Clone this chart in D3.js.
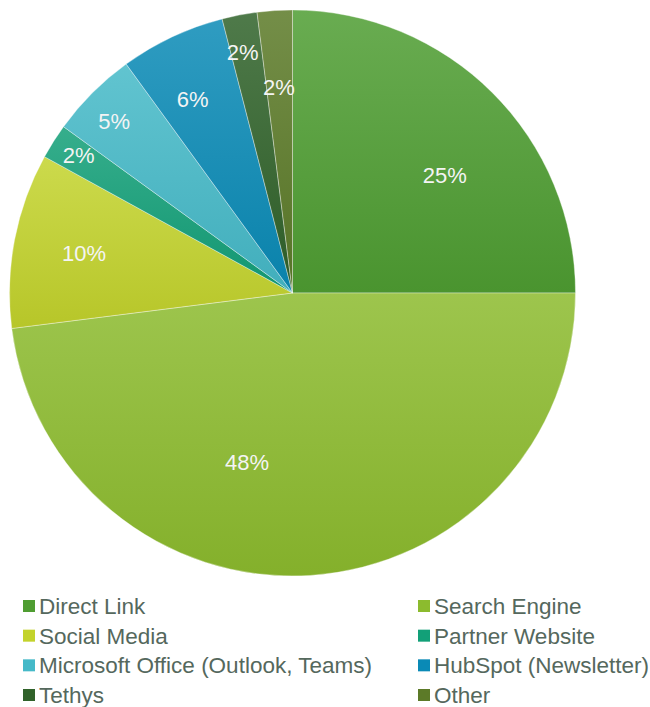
<!DOCTYPE html>
<html lang="en">
<head>
<meta charset="utf-8">
<title>Traffic sources</title>
<script src="https://d3js.org/d3.v7.min.js"></script>
<style>
  body { margin: 0; background: #fff; }
  text { font-family: "Liberation Sans", Arial, sans-serif; }
  .label { fill: #f4f4f4; font-size: 22px; }
  .legend text { fill: #55685d; font-size: 22.5px; }
</style>
</head>
<body>
<div id="chart"></div>
<script>
// data
var sources = ["Direct Link", "Search Engine", "Social Media", "Partner Website",
               "Microsoft Office (Outlook, Teams)", "HubSpot (Newsletter)", "Tethys", "Other"];
var shares = [25, 48, 10, 2, 5, 6, 2, 2];
var colors = ["#4f9d32", "#8cbb2e", "#c3d32c", "#12a078", "#45b9c8", "#0a8ab6", "#30622a", "#5c7a28"];

var width = 650, height = 707;
var cx = 292.5, cy = 293, radius = 283;

// where excel dropped each label: fraction of radius, turn in degrees
var labelPlace = [[0.68, 7.3], [0.62, 18.6], [0.75, 0], [0.9, 0.5],
                  [0.875, -1.1], [0.77, -2.1], [0.87, -0.9], [0.73, -0.2]];

var svg = d3.select("#chart").append("svg")
    .attr("width", width)
    .attr("height", height);

var defs = svg.append("defs");

var table = sources.map(function(s, i) { return {name: s, value: shares[i], color: colors[i], i: i}; });

var pie = d3.pie().sort(null).value(function(d) { return d.value; });
var arc = d3.arc().innerRadius(0).outerRadius(radius);

var arcs = pie(table);

// vertical gradient per slice, lighter on top
arcs.forEach(function(a) {
    var g = defs.append("linearGradient")
        .attr("id", "grad" + a.data.i)
        .attr("x1", 0).attr("y1", 0).attr("x2", 0).attr("y2", 1);
    g.append("stop").attr("offset", "0%")
        .attr("stop-color", d3.interpolateRgb(a.data.color, "#ffffff")(0.15));
    g.append("stop").attr("offset", "100%")
        .attr("stop-color", d3.interpolateRgb(a.data.color, "#000000")(0.06));
});

var g = svg.append("g")
    .attr("transform", "translate(" + cx + "," + cy + ")");

g.selectAll("path")
    .data(arcs)
    .enter().append("path")
    .attr("d", arc)
    .attr("fill", function(d) { return "url(#grad" + d.data.i + ")"; })
    .attr("stroke", "rgba(255,255,255,0.45)")
    .attr("stroke-width", 0.8);

g.selectAll("text.label")
    .data(arcs)
    .enter().append("text")
    .attr("class", "label")
    .attr("text-anchor", "middle")
    .attr("dy", "0.36em")
    .attr("transform", function(d) {
        var p = labelPlace[d.data.i];
        var a = (d.startAngle + d.endAngle) / 2 + p[1] * Math.PI / 180;
        var r = p[0] * radius;
        return "translate(" + (r * Math.sin(a)) + "," + (-r * Math.cos(a)) + ")";
    })
    .text(function(d) { return d.data.value + "%"; });

// legend, two columns
var col = d3.scaleOrdinal().domain([0, 1]).range([23, 418]);
var row = d3.scaleLinear().domain([0, 3]).range([606, 695]);

var leg = svg.append("g").attr("class", "legend")
    .selectAll("g")
    .data(table)
    .enter().append("g")
    .attr("transform", function(d) {
        return "translate(" + col(d.i % 2) + "," + row(Math.floor(d.i / 2)) + ")";
    });

leg.append("rect")
    .attr("x", 0).attr("y", -6)
    .attr("width", 12).attr("height", 12)
    .attr("fill", function(d) { return d.color; });

leg.append("text")
    .attr("x", 16)
    .attr("dy", "0.36em")
    .text(function(d) { return d.name; });
</script>
</body>
</html>
